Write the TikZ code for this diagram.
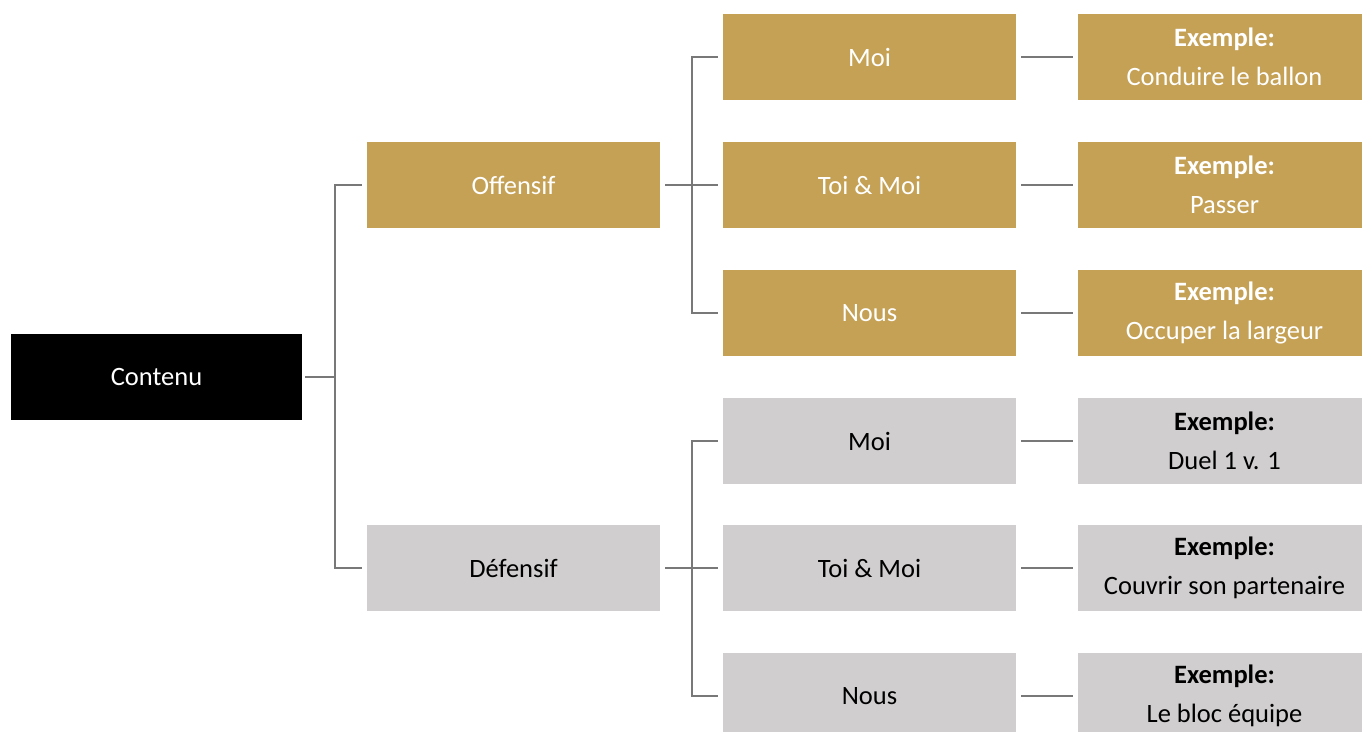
\documentclass[tikz,border=0pt]{standalone}
\usepackage{fontspec}
\setmainfont{Carlito}
\usetikzlibrary{calc}
\definecolor{gold}{RGB}{197,161,86}
\definecolor{lgray}{RGB}{208,206,206}
\definecolor{conncol}{RGB}{120,120,120}
\tikzset{
  box/.style={rectangle, inner sep=0pt, outer sep=0pt, minimum width=293pt, minimum height=86pt, align=center, font=\fontsize{26.5}{39}\selectfont},
  goldbox/.style={box, fill=gold, text=white},
  graybox/.style={box, fill=lgray, text=black},
  rootbox/.style={box, fill=black, text=white, minimum width=291pt},
  conn/.style={draw=conncol, line width=1.3pt},
}
\begin{document}
\begin{tikzpicture}[x=1pt,y=-1pt]
\useasboundingbox (0,0) rectangle (1362,731);
\clip (0,0) rectangle (1362,731);
\node[rootbox] (contenu) at (156.5,377) {Contenu};
\node[goldbox] (off) at (513.5,185) {Offensif};
\node[graybox] (def) at (513.5,568) {Défensif};
\node[goldbox] (omoi) at (869.5,57) {Moi};
\node[goldbox] (otoi) at (869.5,185) {Toi \& Moi};
\node[goldbox] (onous) at (869.5,313) {Nous};
\node[graybox] (dmoi) at (869.5,441) {Moi};
\node[graybox] (dtoi) at (869.5,568) {Toi \& Moi};
\node[graybox] (dnous) at (869.5,696) {Nous};
\node[goldbox] (eomoi) at (1224.5,57) {\textbf{Exemple:}\\Conduire le ballon};
\node[goldbox] (eotoi) at (1224.5,185) {\textbf{Exemple:}\\Passer};
\node[goldbox] (eonous) at (1224.5,313) {\textbf{Exemple:}\\Occuper la largeur};
\node[graybox] (edmoi) at (1224.5,441) {\textbf{Exemple:}\\Duel 1 v. 1};
\node[graybox] (edtoi) at (1224.5,568) {\textbf{Exemple:}\\Couvrir son partenaire};
\node[graybox] (ednous) at (1224.5,696) {\textbf{Exemple:}\\Le bloc équipe};
% level 1
\coordinate (j0) at ($(contenu.east)+(33,0)$);
\draw[conn] ([xshift=3pt]contenu.east) -- (j0);
\draw[conn] (j0) |- ([xshift=-5pt]off.west);
\draw[conn] (j0) |- ([xshift=-5pt]def.west);
% level 2 offensive
\coordinate (j1) at ($(off.east)+(32,0)$);
\draw[conn] ([xshift=5pt]off.east) -- (j1);
\draw[conn] (j1) |- ([xshift=-5pt]omoi.west);
\draw[conn] (j1) -- ([xshift=-5pt]otoi.west);
\draw[conn] (j1) |- ([xshift=-5pt]onous.west);
% level 2 defensive
\coordinate (j2) at ($(def.east)+(32,0)$);
\draw[conn] ([xshift=5pt]def.east) -- (j2);
\draw[conn] (j2) |- ([xshift=-5pt]dmoi.west);
\draw[conn] (j2) -- ([xshift=-5pt]dtoi.west);
\draw[conn] (j2) |- ([xshift=-5pt]dnous.west);
% level 3
\foreach \a/\b in {omoi/eomoi,otoi/eotoi,onous/eonous,dmoi/edmoi,dtoi/edtoi,dnous/ednous}{
  \draw[conn] ([xshift=5pt]\a.east) -- ([xshift=-5pt]\b.west);
}
\end{tikzpicture}
\end{document}
